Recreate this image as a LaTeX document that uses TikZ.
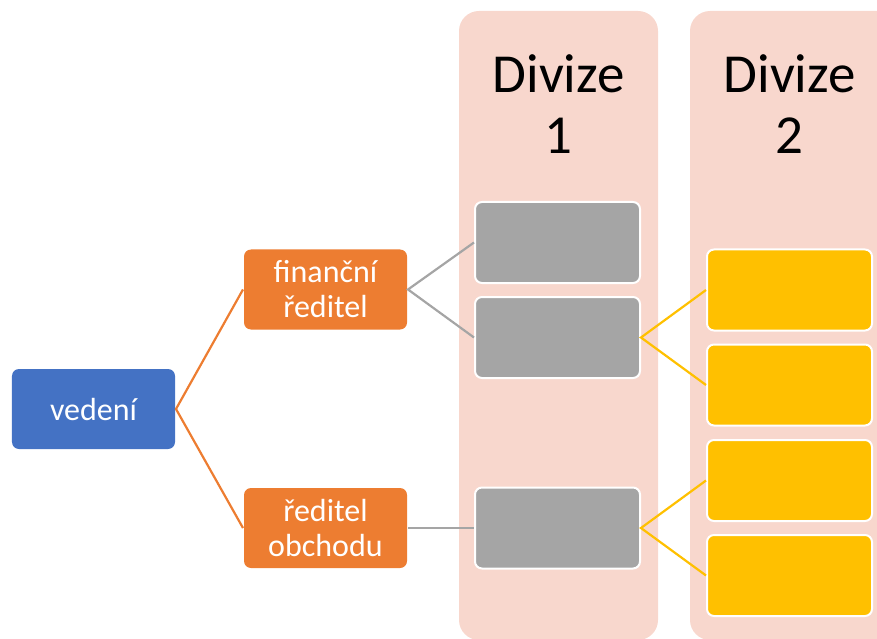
\documentclass[tikz,border=0pt]{standalone}
\usepackage{fontspec}
\setmainfont{Carlito}
\definecolor{cblue}{HTML}{4472C4}
\definecolor{corange}{HTML}{ED7D31}
\definecolor{cgray}{HTML}{A5A5A5}
\definecolor{cyellow}{HTML}{FFC000}
\definecolor{cpink}{HTML}{F8D7CD}
\tikzset{
  box/.style={rectangle, rounded corners=7bp, draw=white, line width=2bp, inner sep=0pt,
    minimum width=165bp, minimum height=81bp, text=white, align=center,
    font=\fontsize{32bp}{35bp}\selectfont},
  bluebox/.style={box, fill=cblue, draw=none, minimum width=163bp, minimum height=80bp},
  orangebox/.style={box, fill=corange, draw=none, minimum width=163bp, minimum height=80bp},
  graybox/.style={box, fill=cgray},
  yellowbox/.style={box, fill=cyellow},
  column/.style={fill=cpink, rounded corners=20bp},
  head/.style={font=\fontsize{55bp}{61bp}\selectfont, align=center, text=black},
  oline/.style={draw=corange, line width=2.2bp},
  gline/.style={draw=cgray, line width=2.2bp},
  yline/.style={draw=cyellow, line width=2.2bp},
}
\begin{document}
\begin{tikzpicture}[x=1bp,y=-1bp]
\useasboundingbox (0,0) rectangle (877,639);
\clip (0,0) rectangle (877,639);
% columns
\fill[column] (459,11) rectangle (658,640);
\fill[column] (690,11) rectangle (910,640);
\node[head] (h1) at (558.5,104) {Divize\\1};
\node[head] (h2) at (789.5,104) {Divize\\2};
% nodes
\node[bluebox] (ved) at (93.5,409) {vedení};
\node[orangebox] (fin) at (325.5,289.5) {finanční\\ředitel};
\node[orangebox] (obch) at (325.5,528) {ředitel\\obchodu};
\node[graybox] (g1) at (557.5,242.5) {};
\node[graybox] (g2) at (557.5,337.5) {};
\node[graybox] (g3) at (557.5,528) {};
\node[yellowbox] (y1) at (789.5,290) {};
\node[yellowbox] (y2) at (789.5,385) {};
\node[yellowbox] (y3) at (789.5,480.5) {};
\node[yellowbox] (y4) at (789.5,575.5) {};
% connectors
\draw[oline] (fin.west) -- (ved.east) -- (obch.west);
\draw[gline] (g1.west) -- (fin.east) -- (g2.west);
\draw[gline] (obch.east) -- (g3.west);
\draw[yline] (y1.west) -- (g2.east) -- (y2.west);
\draw[yline] (y3.west) -- (g3.east) -- (y4.west);
\end{tikzpicture}
\end{document}
